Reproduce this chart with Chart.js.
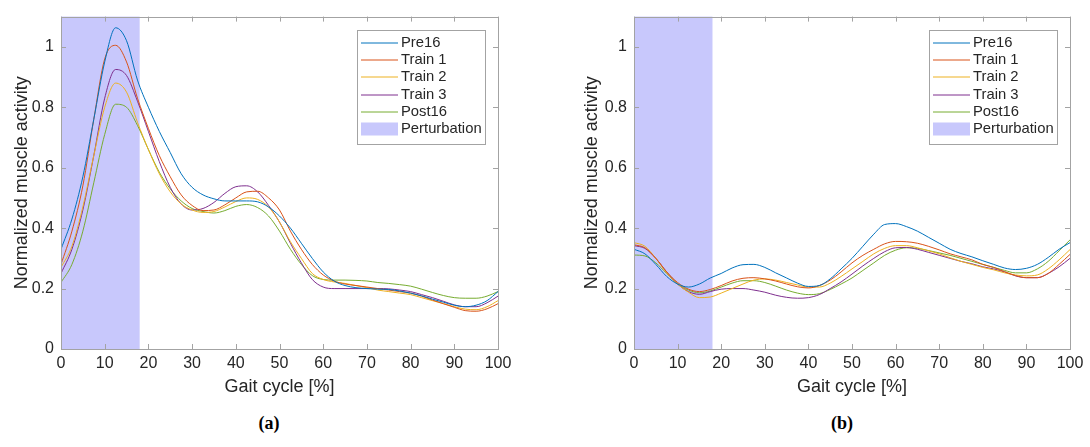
<!DOCTYPE html>
<html>
<head>
<meta charset="utf-8">
<script src="https://cdn.jsdelivr.net/npm/chart.js@4.4.1/dist/chart.umd.min.js"></script>
<style>
  html, body { margin: 0; padding: 0; background: #fff; }
  body { width: 1090px; height: 447px; position: relative; overflow: hidden; }
  .panel { position: absolute; top: 0; height: 400px; }
  #panelA { left: 0; width: 545px; }
  #panelB { left: 573px; width: 517px; }
  .caption {
    position: absolute; top: 413px; transform: translateX(-50%);
    font: bold 18px 'Liberation Serif', 'DejaVu Serif', serif; color: #000;
  }
</style>
</head>
<body>
<div class="panel" id="panelA"><canvas id="chartA"></canvas></div>
<div class="panel" id="panelB"><canvas id="chartB"></canvas></div>
<div class="caption" style="left: 269px;">(a)</div>
<div class="caption" style="left: 842px;">(b)</div>

<script>
// Gait cycle sample points (%), shared by every curve.
const GAIT = [0, 2.5, 5, 7.5, 10, 12.5, 15, 17.5, 20, 22.5, 25, 27.5, 30, 32.5, 35, 37.5, 40, 42.5, 45, 47.5,
  50, 52.5, 55, 57.5, 60, 62.5, 65, 67.5, 70, 72.5, 75, 77.5, 80, 82.5, 85, 87.5, 90, 92.5, 95, 97.5, 100];

const SERIES_NAMES = ['Pre16', 'Train 1', 'Train 2', 'Train 3', 'Post16'];
const COLORS = ['#0072BD', '#D95319', '#EDB120', '#7E2F8E', '#77AC30'];

const X_TICKS = [0, 10, 20, 30, 40, 50, 60, 70, 80, 90, 100];
const Y_TICKS = [0, 0.2, 0.4, 0.6, 0.8, 1];

// Perturbation window, % of gait cycle.
const PERTURBATION = [0, 18];

// Panel (a)
const A_PRE16 = [0.33, 0.43, 0.57, 0.76, 0.95, 1.063, 1.02, 0.89, 0.80, 0.72, 0.65, 0.58, 0.535, 0.51, 0.497, 0.49, 0.49, 0.49, 0.487, 0.47,
  0.44, 0.40, 0.35, 0.30, 0.255, 0.225, 0.21, 0.203, 0.20, 0.198, 0.197, 0.192, 0.185, 0.176, 0.165, 0.155, 0.145, 0.14, 0.145, 0.16, 0.19];
const A_TRAIN1 = [0.28, 0.39, 0.54, 0.76, 0.96, 1.005, 0.95, 0.83, 0.73, 0.64, 0.57, 0.51, 0.475, 0.458, 0.46, 0.477, 0.50, 0.52, 0.522, 0.50,
  0.46, 0.39, 0.33, 0.28, 0.245, 0.225, 0.215, 0.21, 0.205, 0.20, 0.195, 0.19, 0.185, 0.175, 0.162, 0.15, 0.138, 0.127, 0.125, 0.133, 0.15];
const A_TRAIN2 = [0.27, 0.34, 0.47, 0.64, 0.80, 0.88, 0.85, 0.75, 0.66, 0.58, 0.52, 0.48, 0.46, 0.452, 0.455, 0.47, 0.488, 0.50, 0.495, 0.47,
  0.42, 0.355, 0.30, 0.25, 0.23, 0.222, 0.217, 0.21, 0.203, 0.195, 0.19, 0.185, 0.18, 0.17, 0.16, 0.15, 0.14, 0.132, 0.13, 0.14, 0.16];
const A_TRAIN3 = [0.25, 0.33, 0.46, 0.64, 0.83, 0.925, 0.905, 0.82, 0.72, 0.62, 0.535, 0.48, 0.46, 0.465, 0.485, 0.515, 0.537, 0.54, 0.52, 0.475,
  0.42, 0.35, 0.285, 0.23, 0.205, 0.20, 0.20, 0.20, 0.20, 0.20, 0.199, 0.195, 0.19, 0.18, 0.17, 0.158, 0.146, 0.14, 0.14, 0.153, 0.175];
const A_POST16 = [0.22, 0.28, 0.39, 0.55, 0.71, 0.81, 0.80, 0.74, 0.66, 0.585, 0.53, 0.49, 0.465, 0.455, 0.45, 0.458, 0.472, 0.478, 0.468, 0.44,
  0.39, 0.33, 0.28, 0.243, 0.23, 0.228, 0.228, 0.227, 0.225, 0.22, 0.217, 0.213, 0.208, 0.198, 0.187, 0.177, 0.17, 0.168, 0.168, 0.175, 0.19];

// Panel (b)
const B_PRE16 = [0.33, 0.315, 0.28, 0.24, 0.215, 0.205, 0.215, 0.235, 0.25, 0.268, 0.279, 0.28, 0.27, 0.252, 0.235, 0.218, 0.207, 0.21, 0.232, 0.265,
  0.30, 0.34, 0.38, 0.412, 0.415, 0.405, 0.39, 0.37, 0.35, 0.33, 0.316, 0.305, 0.292, 0.28, 0.268, 0.263, 0.267, 0.28, 0.303, 0.33, 0.352];
const B_TRAIN1 = [0.345, 0.335, 0.30, 0.255, 0.22, 0.198, 0.19, 0.197, 0.21, 0.225, 0.234, 0.236, 0.232, 0.225, 0.215, 0.206, 0.202, 0.21, 0.228, 0.255,
  0.285, 0.31, 0.33, 0.348, 0.356, 0.355, 0.35, 0.34, 0.328, 0.315, 0.305, 0.295, 0.28, 0.27, 0.256, 0.243, 0.236, 0.236, 0.25, 0.28, 0.313];
const B_TRAIN2 = [0.352, 0.34, 0.30, 0.252, 0.215, 0.188, 0.17, 0.172, 0.185, 0.20, 0.215, 0.228, 0.232, 0.228, 0.22, 0.212, 0.205, 0.205, 0.218, 0.24,
  0.265, 0.29, 0.315, 0.333, 0.342, 0.342, 0.335, 0.325, 0.315, 0.302, 0.29, 0.28, 0.27, 0.262, 0.252, 0.245, 0.242, 0.245, 0.265, 0.295, 0.329];
const B_TRAIN3 = [0.342, 0.333, 0.30, 0.255, 0.215, 0.19, 0.181, 0.19, 0.198, 0.20, 0.20, 0.195, 0.188, 0.178, 0.171, 0.168, 0.17, 0.18, 0.20, 0.222,
  0.248, 0.275, 0.30, 0.322, 0.335, 0.336, 0.33, 0.32, 0.31, 0.30, 0.29, 0.282, 0.272, 0.265, 0.255, 0.242, 0.236, 0.236, 0.25, 0.272, 0.30];
const B_POST16 = [0.311, 0.308, 0.285, 0.25, 0.215, 0.195, 0.186, 0.192, 0.205, 0.218, 0.226, 0.226, 0.22, 0.208, 0.195, 0.185, 0.18, 0.183, 0.197, 0.215,
  0.235, 0.26, 0.285, 0.31, 0.327, 0.335, 0.333, 0.326, 0.318, 0.31, 0.30, 0.29, 0.28, 0.27, 0.26, 0.252, 0.252, 0.265, 0.29, 0.325, 0.361];

const AXIS_COLOR = '#a3a3a3';
const TEXT_COLOR = '#262626';
const BAND_COLOR = 'rgb(200, 200, 252)';
const FONT = "'Liberation Sans', Arial, sans-serif";

// Shaded perturbation window, painted under the curves.
const bandPlugin = {
  id: 'perturbationBand',
  beforeDatasetsDraw(chart) {
    const { ctx, chartArea, scales } = chart;
    const x0 = scales.x.getPixelForValue(PERTURBATION[0]);
    const x1 = scales.x.getPixelForValue(PERTURBATION[1]);
    ctx.save();
    ctx.fillStyle = BAND_COLOR;
    ctx.fillRect(x0, chartArea.top, x1 - x0, chartArea.bottom - chartArea.top);
    ctx.restore();
  },
};

// Full box around the plot with inward tick marks on all four sides.
const boxPlugin = {
  id: 'axesBox',
  afterDatasetsDraw(chart) {
    const { ctx, chartArea: a, scales } = chart;
    const len = 5;
    ctx.save();
    ctx.strokeStyle = AXIS_COLOR;
    ctx.lineWidth = 1;
    ctx.strokeRect(Math.round(a.left) + 0.5, Math.round(a.top) + 0.5,
      Math.round(a.right - a.left), Math.round(a.bottom - a.top));
    ctx.beginPath();
    X_TICKS.forEach((v) => {
      const x = Math.round(scales.x.getPixelForValue(v)) + 0.5;
      ctx.moveTo(x, a.bottom); ctx.lineTo(x, a.bottom - len);
      ctx.moveTo(x, a.top); ctx.lineTo(x, a.top + len);
    });
    Y_TICKS.forEach((v) => {
      const y = Math.round(scales.y.getPixelForValue(v)) + 0.5;
      ctx.moveTo(a.left, y); ctx.lineTo(a.left + len, y);
      ctx.moveTo(a.right, y); ctx.lineTo(a.right - len, y);
    });
    ctx.stroke();
    ctx.restore();
  },
};

// Boxed legend inside the top-right corner of the plot.
const legendPlugin = {
  id: 'boxLegend',
  afterDraw(chart) {
    const { ctx, chartArea } = chart;
    const w = 128, h = 114, row = 17.2;
    const x = Math.round(chartArea.right - 13 - w);
    const y = Math.round(chartArea.top + 13);
    ctx.save();
    ctx.fillStyle = '#fff';
    ctx.fillRect(x, y, w, h);
    ctx.strokeStyle = AXIS_COLOR;
    ctx.lineWidth = 1;
    ctx.strokeRect(x + 0.5, y + 0.5, w, h);
    ctx.font = '14.8px ' + FONT;
    ctx.textBaseline = 'middle';
    chart.data.datasets.forEach((ds, i) => {
      const ry = Math.round(y + 13 + i * row);
      ctx.strokeStyle = ds.borderColor;
      ctx.lineWidth = ds.borderWidth;
      ctx.beginPath();
      ctx.moveTo(x + 4, ry);
      ctx.lineTo(x + 41, ry);
      ctx.stroke();
      ctx.fillStyle = TEXT_COLOR;
      ctx.fillText(ds.label, x + 44, ry);
    });
    const py = y + 13 + 5 * row;
    ctx.fillStyle = BAND_COLOR;
    ctx.fillRect(x + 4, py - 6.5, 37, 13);
    ctx.fillStyle = TEXT_COLOR;
    ctx.fillText('Perturbation', x + 44, py);
    ctx.restore();
  },
};

function buildChart(canvasId, series, padRight, yTitleGap) {
  return new Chart(document.getElementById(canvasId), {
    type: 'line',
    data: {
      datasets: series.map((values, i) => ({
        label: SERIES_NAMES[i],
        data: GAIT.map((x, j) => ({ x, y: values[j] })),
        borderColor: COLORS[i],
        borderWidth: 1,
        pointRadius: 0,
        cubicInterpolationMode: 'monotone',
        fill: false,
      })),
    },
    options: {
      responsive: true,
      maintainAspectRatio: false,
      animation: false,
      layout: { padding: { top: 6, right: padRight, left: 0, bottom: 0 } },
      plugins: { legend: { display: false }, tooltip: { enabled: false } },
      scales: {
        x: {
          type: 'linear',
          min: 0,
          max: 100,
          afterBuildTicks: (s) => { s.ticks = X_TICKS.map((v) => ({ value: v })); },
          afterFit: (s) => { s.height = 51; },
          grid: { display: false, drawTicks: false },
          border: { display: false },
          ticks: { padding: 5, color: TEXT_COLOR, font: { family: FONT, size: 16 }, maxRotation: 0 },
          title: {
            display: true,
            text: 'Gait cycle [%]',
            color: TEXT_COLOR,
            font: { family: FONT, size: 18 },
            padding: { top: 0, bottom: 2 },
          },
        },
        y: {
          min: 0,
          max: 1.1,
          afterBuildTicks: (s) => { s.ticks = Y_TICKS.map((v) => ({ value: v })); },
          afterFit: (s) => { s.width = 61; },
          grid: { display: false, drawTicks: false },
          border: { display: false },
          ticks: { padding: 7, color: TEXT_COLOR, font: { family: FONT, size: 16 }, callback: (v) => String(v) },
          title: {
            display: true,
            text: 'Normalized muscle activity',
            color: TEXT_COLOR,
            font: { family: FONT, size: 18 },
            padding: { top: yTitleGap, bottom: 0 },
          },
        },
      },
    },
    plugins: [bandPlugin, boxPlugin, legendPlugin],
  });
}

buildChart('chartA', [A_PRE16, A_TRAIN1, A_TRAIN2, A_TRAIN3, A_POST16], 47, 11.7);
buildChart('chartB', [B_PRE16, B_TRAIN1, B_TRAIN2, B_TRAIN3, B_POST16], 20, 8.7);
</script>
</body>
</html>
